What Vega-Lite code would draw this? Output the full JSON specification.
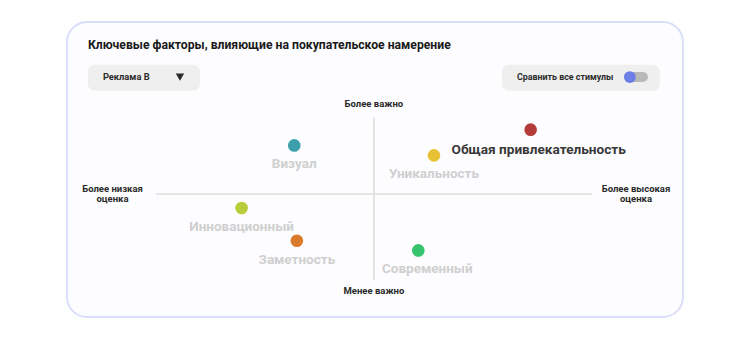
{
  "$schema": "https://vega.github.io/schema/vega-lite/v6.json",
  "width": 616,
  "height": 295,
  "padding": {"left": 67, "top": 22, "right": 67, "bottom": 20},
  "autosize": {"type": "none"},
  "background": "#ffffff",
  "config": {
    "view": {"fill": "#fdfdff", "stroke": "#dadefa", "strokeWidth": 2, "cornerRadius": 20},
    "font": "Roboto"
  },
  "datasets": {
    "points": [
      {"name": "Визуал", "score": -0.366, "importance": 0.565, "color": "#3ba0ac"},
      {"name": "Инновационный", "score": -0.608, "importance": -0.163, "color": "#b8cc3c"},
      {"name": "Заметность", "score": -0.354, "importance": -0.543, "color": "#d97a2c"},
      {"name": "Уникальность", "score": 0.276, "importance": 0.449, "color": "#e6c234"},
      {"name": "Общая привлекательность", "score": 0.72, "importance": 0.748, "color": "#b43c38"},
      {"name": "Современный", "score": 0.204, "importance": -0.656, "color": "#36c46e"}
    ]
  },
  "encoding": {
    "x": {"type": "quantitative", "scale": {"domain": [-1.41, 1.42], "nice": false, "zero": false}, "axis": null},
    "y": {"type": "quantitative", "scale": {"domain": [-1.43, 2.0], "nice": false, "zero": false}, "axis": null}
  },
  "layer": [
    {
      "data": {"values": [{}]},
      "mark": {"type": "rule", "color": "#dcdcdc", "strokeWidth": 1.5},
      "encoding": {"x": {"datum": -1}, "x2": {"datum": 1}, "y": {"datum": 0}}
    },
    {
      "data": {"values": [{}]},
      "mark": {"type": "rule", "color": "#dcdcdc", "strokeWidth": 1.5},
      "encoding": {"x": {"datum": 0}, "y": {"datum": -1.0}, "y2": {"datum": 0.89}}
    },
    {
      "data": {"values": [{}]},
      "mark": {"type": "text", "text": "Ключевые факторы, влияющие на покупательское намерение", "align": "left", "baseline": "middle", "fontSize": 12.2, "fontWeight": "bold", "color": "#1a1a1a"},
      "encoding": {"x": {"datum": -1.314}, "y": {"datum": 1.736}}
    },
    {
      "data": {"values": [{}]},
      "mark": {"type": "rect", "fill": "#efefef", "cornerRadius": 7},
      "encoding": {"x": {"datum": -1.314}, "x2": {"datum": -0.799}, "y": {"datum": 1.503}, "y2": {"datum": 1.201}}
    },
    {
      "data": {"values": [{}]},
      "mark": {"type": "rect", "fill": "#efefef", "cornerRadius": 7},
      "encoding": {"x": {"datum": 0.588}, "x2": {"datum": 1.314}, "y": {"datum": 1.503}, "y2": {"datum": 1.201}}
    },
    {
      "data": {"values": [{}]},
      "mark": {"type": "text", "text": "Реклама B", "align": "left", "baseline": "middle", "fontSize": 9.3, "fontWeight": "bold", "color": "#2a2a2a"},
      "encoding": {"x": {"datum": -1.245}, "y": {"datum": 1.36}}
    },
    {
      "data": {"values": [{}]},
      "mark": {"type": "point", "shape": "triangle-down", "filled": true, "size": 70, "color": "#2a2a2a", "opacity": 1},
      "encoding": {"x": {"datum": -0.891}, "y": {"datum": 1.36}}
    },
    {
      "data": {"values": [{}]},
      "mark": {"type": "text", "text": "Сравнить все стимулы", "align": "left", "baseline": "middle", "fontSize": 8.9, "fontWeight": "bold", "color": "#2a2a2a"},
      "encoding": {"x": {"datum": 0.657}, "y": {"datum": 1.36}}
    },
    {
      "data": {"values": [{}]},
      "mark": {"type": "rule", "color": "#b9b9b9", "strokeWidth": 10, "strokeCap": "round"},
      "encoding": {"x": {"datum": 1.172}, "x2": {"datum": 1.236}, "y": {"datum": 1.36}}
    },
    {
      "data": {"values": [{}]},
      "mark": {"type": "circle", "size": 140, "color": "#6b7fe6", "opacity": 1},
      "encoding": {"x": {"datum": 1.176}, "y": {"datum": 1.36}}
    },
    {
      "data": {"values": [{}]},
      "mark": {"type": "text", "text": "Более важно", "align": "center", "baseline": "middle", "fontSize": 9.5, "fontWeight": "bold", "color": "#2a2a2a"},
      "encoding": {"x": {"datum": 0}, "y": {"datum": 1.05}}
    },
    {
      "data": {"values": [{}]},
      "mark": {"type": "text", "text": "Менее важно", "align": "center", "baseline": "middle", "fontSize": 9.5, "fontWeight": "bold", "color": "#2a2a2a"},
      "encoding": {"x": {"datum": 0}, "y": {"datum": -1.125}}
    },
    {
      "data": {"values": [{}]},
      "mark": {"type": "text", "text": ["Более низкая", "оценка"], "align": "center", "baseline": "middle", "lineHeight": 10, "fontSize": 9.5, "fontWeight": "bold", "color": "#2a2a2a"},
      "encoding": {"x": {"datum": -1.201}, "y": {"datum": 0.056}}
    },
    {
      "data": {"values": [{}]},
      "mark": {"type": "text", "text": ["Более высокая", "оценка"], "align": "center", "baseline": "middle", "lineHeight": 10, "fontSize": 9.5, "fontWeight": "bold", "color": "#2a2a2a"},
      "encoding": {"x": {"datum": 1.204}, "y": {"datum": 0.056}}
    },
    {
      "data": {"name": "points"},
      "mark": {"type": "circle", "size": 160, "opacity": 1},
      "encoding": {
        "x": {"field": "score", "type": "quantitative"},
        "y": {"field": "importance", "type": "quantitative"},
        "color": {"field": "color", "type": "nominal", "scale": null}
      }
    },
    {
      "data": {"name": "points"},
      "transform": [{"filter": "datum.name !== 'Общая привлекательность' && datum.name !== 'Современный'"}],
      "mark": {"type": "text", "align": "center", "baseline": "alphabetic", "dy": 23, "fontSize": 13.5, "fontWeight": "bold", "color": "#cfcfcf"},
      "encoding": {
        "x": {"field": "score", "type": "quantitative"},
        "y": {"field": "importance", "type": "quantitative"},
        "text": {"field": "name"}
      }
    },
    {
      "data": {"name": "points"},
      "transform": [{"filter": "datum.name === 'Современный'"}],
      "mark": {"type": "text", "align": "center", "baseline": "alphabetic", "dx": 9, "dy": 23, "fontSize": 13.5, "fontWeight": "bold", "color": "#cfcfcf"},
      "encoding": {
        "x": {"field": "score", "type": "quantitative"},
        "y": {"field": "importance", "type": "quantitative"},
        "text": {"field": "name"}
      }
    },
    {
      "data": {"name": "points"},
      "transform": [{"filter": "datum.name === 'Общая привлекательность'"}],
      "mark": {"type": "text", "align": "center", "baseline": "alphabetic", "dx": 8, "dy": 24, "fontSize": 13.6, "fontWeight": "bold", "color": "#383838"},
      "encoding": {
        "x": {"field": "score", "type": "quantitative"},
        "y": {"field": "importance", "type": "quantitative"},
        "text": {"field": "name"}
      }
    }
  ]
}
